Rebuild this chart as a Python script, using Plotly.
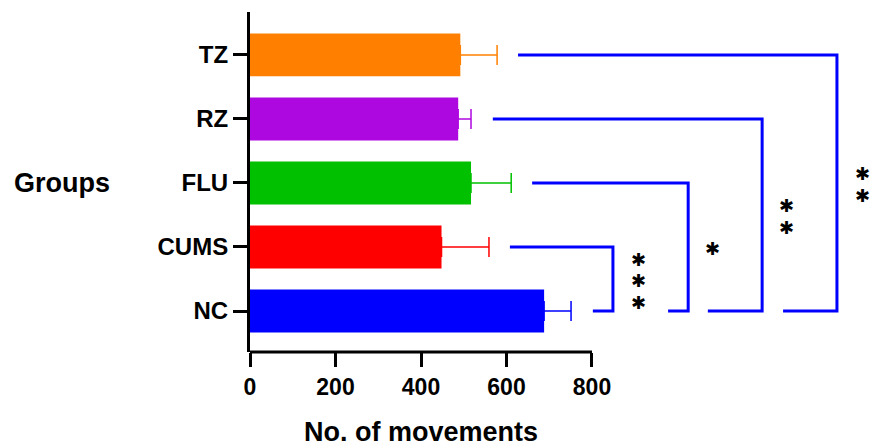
import plotly.graph_objects as go

# ---- data ----
groups = ["NC", "CUMS", "FLU", "RZ", "TZ"]
means = [688, 448, 517, 487, 492]
errors = [63, 111, 94, 30, 86]
colors = ["#0000FF", "#FF0000", "#00C000", "#AE08E0", "#FF8000"]

x_ticks = [0, 200, 400, 600, 800]
x_axis_max = 800
x_view_max = 1455

# significance brackets (each group vs NC)
cmp_groups = ["CUMS", "FLU", "RZ", "TZ"]
br_start = [608, 660, 568, 627]
br_vert = [849, 1025, 1198, 1373]
br_bottom = [802, 978, 1071, 1247]
stars = ["***", "*", "**", "**"]
star_x = [908, 1081, 1256, 1432]
star_y = [0.47, 0.98, 1.48, 1.98]
star_step = 0.34

FONT = "Liberation Sans, Arial, sans-serif"

fig = go.Figure()

for g, m, e, c in zip(groups, means, errors, colors):
    fig.add_trace(go.Bar(
        y=[g], x=[m], orientation="h",
        marker=dict(color=c, line=dict(width=0)),
        width=0.67,
        error_x=dict(type="data", array=[e], arrayminus=[0], symmetric=False,
                     color=c, thickness=1.5, width=10),
        showlegend=False,
    ))

ref = groups[0]
for g, xs, xv, xb in zip(cmp_groups, br_start, br_vert, br_bottom):
    fig.add_trace(go.Scatter(
        x=[xs, xv, xv, xb], y=[g, g, ref, ref], mode="lines",
        line=dict(color="#0000FF", width=3), showlegend=False,
        cliponaxis=False, hoverinfo="skip",
    ))

annotations = []
for s, sx, sy in zip(stars, star_x, star_y):
    n = len(s)
    for i in range(n):
        yy = sy + (i - (n - 1) / 2) * star_step
        annotations.append(dict(
            x=sx, y=yy, xref="x", yref="y", text="✱", showarrow=False,
            font=dict(family="DejaVu Sans", size=18, color="black"),
            xanchor="center", yanchor="middle",
        ))

annotations.append(dict(
    x=0, xref="paper", xshift=-238, y="FLU", yref="y", text="<b>Groups</b>",
    showarrow=False, xanchor="left", yanchor="middle",
    font=dict(family=FONT, size=27, color="black"),
))
annotations.append(dict(
    x=x_axis_max / 2, xref="x", y=0, yref="paper", yshift=-80,
    text="<b>No. of movements</b>", showarrow=False,
    xanchor="center", yanchor="middle",
    font=dict(family=FONT, size=27, color="black"),
))

fig.update_layout(
    width=872, height=446,
    margin=dict(l=250, r=0, t=12, b=94),
    plot_bgcolor="white", paper_bgcolor="white",
    barmode="overlay",
    annotations=annotations,
    shapes=[dict(type="line", xref="paper", yref="paper",
                 x0=0, x1=x_axis_max / x_view_max, y0=0, y1=0,
                 line=dict(color="black", width=3))],
    xaxis=dict(range=[0, x_view_max], tickvals=x_ticks,
               ticktext=[f"<b>{t}</b>" for t in x_ticks],
               ticks="outside", ticklen=14, tickwidth=3, tickcolor="black",
               showline=False, zeroline=False, showgrid=False,
               tickfont=dict(family=FONT, size=23, color="black")),
    yaxis=dict(range=[-0.64, 4.67], type="category",
               categoryorder="array", categoryarray=groups,
               tickvals=groups, ticktext=[f"<b>{g}</b>" for g in groups],
               showline=True, linewidth=3, linecolor="black",
               ticks="outside", ticklen=14, tickwidth=3, tickcolor="black",
               showgrid=False, zeroline=False,
               tickfont=dict(family=FONT, size=24, color="black")),
)

fig.write_html("out.html")
